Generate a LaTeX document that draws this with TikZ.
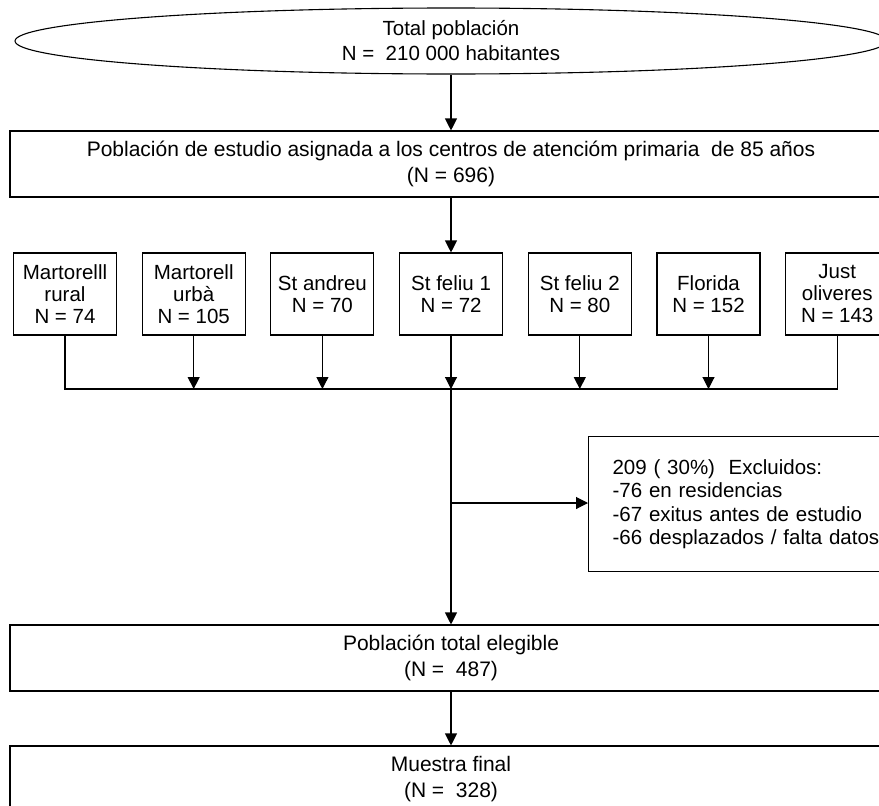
\documentclass[tikz,border=0pt]{standalone}
\usepackage{fontspec}
\setmainfont{Liberation Sans}
\usetikzlibrary{
    arrows.meta,      % For arrow tips
    shapes.geometric, % For the ellipse on top
    positioning       % For the row of centres
}

\begin{document}
\begin{tikzpicture}[
    x=1pt, y=-1pt,
    >={Triangle[length=12pt, width=12pt]}, % Set default arrow tip style
    line width=1.1pt,
    every node/.style={font=\fontsize{20.5}{25}\selectfont},
    % Style for the wide boxes across the page
    widebox/.style={draw, rectangle, minimum width=882pt, minimum height=66pt, align=center,
        font=\fontsize{21}{26}\selectfont},
    % Style for the small boxes of each centre
    centrebox/.style={draw, rectangle, minimum width=103pt, minimum height=82pt,
        inner sep=2pt, align=center, font=\fontsize{20.5}{22}\selectfont},
    node distance=24.6pt
]

    % Page size (the wide boxes run off the right edge)
    \useasboundingbox (0,0) rectangle (879,806);
    \clip (0,0) rectangle (879,806);

    % Top of the flow
    \node[draw, ellipse, inner sep=0pt, minimum width=872pt, minimum height=66pt, align=center]
        (total) at (451,41) {Total población\\N =~ 210 000 habitantes};
    \node[widebox] (estudio) at (451,164)
        {Población de estudio asignada a los centros de atencióm primaria~ de 85 años\\(N = 696)};

    % Row of centres
    \node[centrebox] (c1) at (65,294) {Martorelll\\rural\\N = 74};
    \node[centrebox, right=of c1] (c2) {Martorell\\urbà\\N = 105};
    \node[centrebox, right=of c2] (c3) {St andreu\\N = 70};
    \node[centrebox, right=of c3] (c4) {St feliu 1\\N = 72};
    \node[centrebox, right=of c4] (c5) {St feliu 2\\N = 80};
    \node[centrebox, right=of c5] (c6) {Florida\\N = 152};
    \node[centrebox, right=of c6] (c7) {Just\\oliveres\\N = 143};

    % Exclusions and the bottom boxes
    \node[draw, anchor=west, minimum height=135pt, text width=290pt, inner xsep=24pt,
        align=left, font=\fontsize{20.5}{23.5}\selectfont] (excl) at (588,504)
        {209 ( 30\%)\ \ Excluidos:\\-76 en residencias\\-67 exitus antes de estudio\\-66 desplazados / falta datos};
    \node[widebox] (elegible) at (451,658) {Población total elegible\\(N =~ 487)};
    \node[widebox] (final) at (451,779) {Muestra final\\(N =~ 328)};

    % Joining points on the main line
    \coordinate (join) at (451,389);
    \coordinate (split) at (451,503);

    % Connectors
    \draw[->] (total) -- (estudio);
    \draw[->] (estudio) -- (estudio |- c4.north);
    \draw (c1.south) |- (join) -| (c7.south);
    \draw[->] (c2) -- (c2 |- join);
    \draw[->] (c3) -- (c3 |- join);
    \draw[->] (c4.south -| join) -- (join);
    \draw[->] (c5) -- (c5 |- join);
    \draw[->] (c6) -- (c6 |- join);
    \draw[->] (join) -- (elegible);
    \draw[->] (split) -- (split -| excl.west);
    \draw[->] (elegible) -- (final);

\end{tikzpicture}
\end{document}
